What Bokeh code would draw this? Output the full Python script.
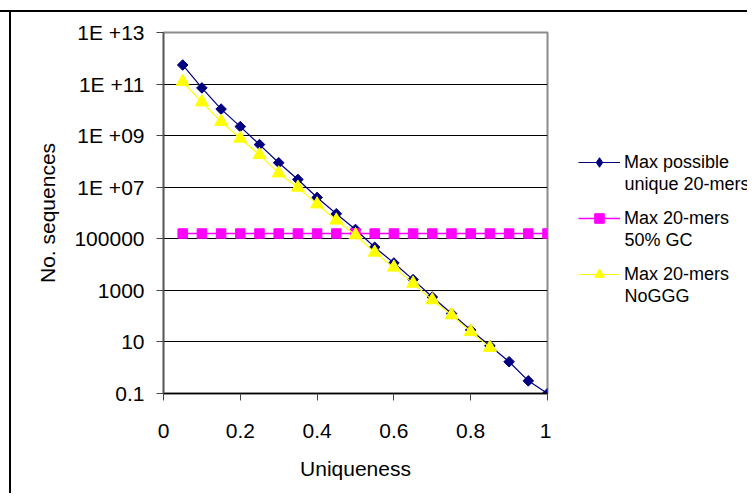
from math import pi
from bokeh.plotting import figure
from bokeh.models import Legend, LegendItem, Label, FixedTicker, Spacer
from bokeh.layouts import row, column
from bokeh.embed import file_html
from bokeh.resources import INLINE

# ---- data ----
uniqueness = [0.05, 0.10, 0.15, 0.20, 0.25, 0.30, 0.35, 0.40, 0.45, 0.50,
              0.55, 0.60, 0.65, 0.70, 0.75, 0.80, 0.85, 0.90, 0.95, 1.00]
max_unique = [5.5e11, 7.1e10, 1.07e10, 2.24e9, 4.5e8, 8.9e7, 2.0e7, 4.0e6, 9.3e5, 2.3e5,
              4.7e4, 1.15e4, 2.6e3, 5.5e2, 1.26e2, 29, 7.1, 1.7, 0.31, 0.1]
max_gc50 = [1.6e5] * 20
uniqueness_noggg = uniqueness[:17]
max_noggg = [1.23e11, 2.0e10, 3.5e9, 7.8e8, 1.8e8, 3.5e7, 9.8e6, 2.2e6, 5.2e5, 1.4e5,
             2.95e4, 7.8e3, 1.86e3, 4.2e2, 1.1e2, 25, 6.0]

y_ticks = [0.1, 10, 1000, 1e5, 1e7, 1e9, 1e11, 1e13]
y_tick_labels = ["0.1", "10", "1000", "100000", "1E +07", "1E +09", "1E +11", "1E +13"]
x_ticks = [0, 0.2, 0.4, 0.6, 0.8, 1]

series_names = [("Max possible", "unique 20-mers"),
                ("Max 20-mers", "50% GC"),
                ("Max 20-mers", "NoGGG")]

FONT = "Liberation Sans"
NAVY = "#000080"
MAGENTA = "#FF00FF"
YELLOW = "#FFFF00"

# ---------------- main plot ----------------
p = figure(frame_width=384, frame_height=361,
           x_range=(0, 1), y_range=(0.1, 1e13), y_axis_type="log",
           output_backend="svg", toolbar_location=None,
           min_border_left=152, min_border_top=20,
           min_border_right=4, min_border_bottom=100)

p.background_fill_color = "white"
p.border_fill_color = "white"
p.outline_line_color = "#8c8c8c"
p.outline_line_width = 2

p.xaxis.ticker = FixedTicker(ticks=x_ticks)
p.xaxis.minor_tick_line_color = None
p.xaxis.major_tick_in = 0
p.xaxis.major_tick_out = 7
p.xaxis.axis_line_color = "black"
p.xaxis.axis_line_width = 1.5
p.xaxis.major_tick_line_color = "#444444"
p.xaxis.major_label_standoff = 23
p.xaxis.axis_label = "Uniqueness"
p.xaxis.axis_label_standoff = 16

p.yaxis.ticker = FixedTicker(ticks=y_ticks)
p.yaxis.major_label_overrides = {t: s for t, s in zip(y_ticks, y_tick_labels)}
p.yaxis.minor_tick_line_color = None
p.yaxis.major_tick_in = 0
p.yaxis.major_tick_out = 7
p.yaxis.axis_line_color = "#555555"
p.yaxis.axis_line_width = 1.5
p.yaxis.major_tick_line_color = "#444444"
p.yaxis.major_label_standoff = 12
p.yaxis.axis_label = "No. sequences"
p.yaxis.axis_label_standoff = 12

for ax in (p.xaxis[0], p.yaxis[0]):
    ax.major_label_text_font = FONT
    ax.major_label_text_font_size = "21px"
    ax.major_label_text_color = "black"
    ax.axis_label_text_font = FONT
    ax.axis_label_text_font_size = "21px"
    ax.axis_label_text_font_style = "normal"
    ax.axis_label_text_color = "black"

p.xgrid.grid_line_color = None
p.ygrid.ticker = FixedTicker(ticks=y_ticks[:-1])
p.ygrid.grid_line_color = "black"
p.ygrid.grid_line_width = 1

styles = [
    dict(line_color=NAVY, line_width=1.2, marker="square", angle=pi / 4, size=7.5, color=NAVY,
         legend_marker="diamond"),
    dict(line_color=MAGENTA, line_width=1.5, marker="square", angle=0, size=9.5, color=MAGENTA,
         legend_marker="square"),
    dict(line_color=YELLOW, line_width=1.2, marker="triangle", angle=0, size=13, color=YELLOW,
         legend_marker="triangle"),
]
series = [(uniqueness, max_unique), (uniqueness, max_gc50), (uniqueness_noggg, max_noggg)]

for (xs, ys), st in zip(series, styles):
    p.line(xs, ys, line_color=st["line_color"], line_width=st["line_width"])
    p.scatter(xs, ys, marker=st["marker"], angle=st["angle"], size=st["size"],
              fill_color=st["color"], line_color=st["color"])

# ---------------- legend panel ----------------
p2 = figure(width=196, height=481, x_range=(0, 1), y_range=(0, 1),
            output_backend="svg", toolbar_location=None,
            min_border_left=0, min_border_right=0, min_border_top=0, min_border_bottom=0)
p2.axis.visible = False
p2.grid.grid_line_color = None
p2.outline_line_color = None
p2.background_fill_color = "white"
p2.border_fill_color = "white"

nan = float("nan")
items = []
for (first, _), st in zip(series_names, styles):
    # proxy renderers (no visible data) that carry each series' style into the legend
    lr = p2.line([nan], [nan], line_color=st["line_color"], line_width=st["line_width"])
    sr = p2.scatter([nan], [nan], marker=st["legend_marker"], size=st["size"],
                    fill_color=st["color"], line_color=st["color"])
    items.append(LegendItem(label=first, renderers=[lr, sr]))

legend = Legend(items=items, location=(27, 107), orientation="vertical",
                padding=0, margin=0, spacing=32,
                glyph_width=42, glyph_height=24, label_height=20,
                label_standoff=4, border_line_color=None,
                background_fill_alpha=0,
                label_text_font=FONT, label_text_font_size="18px",
                label_text_color="black")
p2.add_layout(legend, "center")

for i, (_, second) in enumerate(series_names):
    p2.add_layout(Label(x=73, y=209.5 - 56 * i, x_units="screen", y_units="screen",
                        text=second, text_font=FONT, text_font_size="18px",
                        text_baseline="middle", text_align="left", text_color="black"))

# ---------------- outer frame (chart-area border) ----------------
top_gap = Spacer(width=747, height=10)
top_line = Spacer(width=747, height=2, styles={"background-color": "black"})
left_gap = Spacer(width=9, height=481)
left_line = Spacer(width=2, height=481, styles={"background-color": "black"})

layout = column(top_gap, top_line, row(left_gap, left_line, p, p2, spacing=0), spacing=0)

open("out.html", "w").write(file_html(layout, INLINE))
